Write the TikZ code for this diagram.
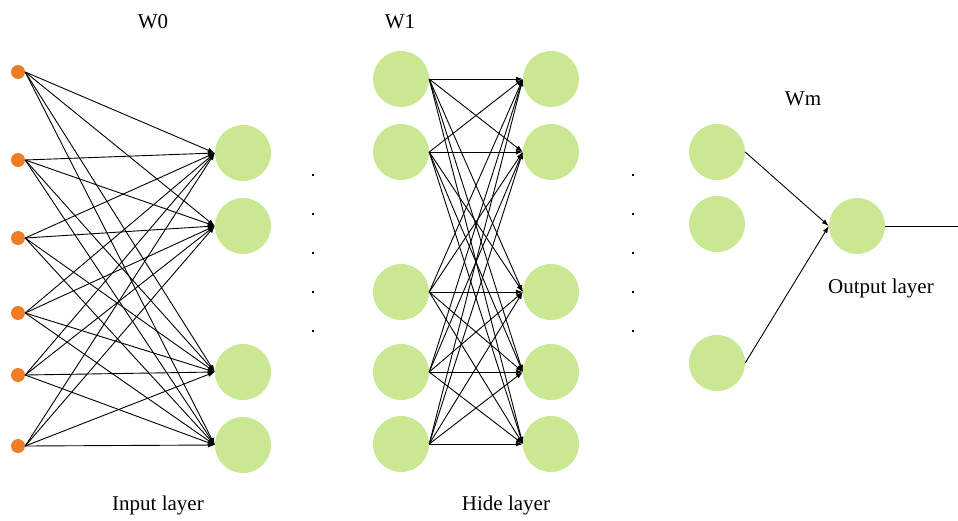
\documentclass[tikz,border=0pt]{standalone}
\usepackage{fontspec}
\setmainfont{Liberation Serif}
\usetikzlibrary{arrows.meta}
\definecolor{nodegreen}{HTML}{CAE892}
\definecolor{inorange}{HTML}{EE7D24}
\tikzset{
  neuron/.style={circle,fill=nodegreen,minimum size=56pt,inner sep=0pt},
  inp/.style={circle,fill=inorange,minimum size=14pt,inner sep=0pt},
  tinydot/.style={fill=black,minimum size=2.4pt,inner sep=0pt},
  conn/.style={draw=black,line width=0.9pt,-{Latex[length=7pt,width=5pt]}},
  plain/.style={draw=black,line width=0.9pt},
  lbl/.style={font=\fontsize{21}{24}\selectfont,inner sep=0pt}
}
\begin{document}
\begin{tikzpicture}[x=1pt,y=-1pt]
\useasboundingbox (0,0) rectangle (958,520);
% input dots
\foreach \i/\y in {1/72,2/160,3/238,4/313,5/375,6/446}
  \node[inp] (i\i) at (18,\y) {};
% layer 1
\foreach \i/\y in {1/153,2/226,3/372,4/445}
  \node[neuron] (a\i) at (243,\y) {};
% layer 2
\foreach \i/\y in {1/79,2/152,3/292,4/372,5/444}
  \node[neuron] (b\i) at (401,\y) {};
% layer 3
\foreach \i/\y in {1/79,2/152,3/292,4/372,5/444}
  \node[neuron] (c\i) at (551,\y) {};
% layer 4
\foreach \i/\y in {1/152,2/224,3/363}
  \node[neuron] (d\i) at (717,\y) {};
% output
\node[neuron] (o) at (857,226) {};
\coordinate (oend) at (958,226);
% ellipsis dots
\foreach \i/\y in {1/175,2/214,3/253,4/292,5/331}{
  \node[tinydot] (p\i) at (313,\y) {};
  \node[tinydot] (q\i) at (633,\y) {};
}
% connections
\foreach \i in {1,...,6}
  \foreach \j in {1,...,4}
    \draw[conn] (i\i.east) -- (a\j.west);
\foreach \i in {1,...,5}
  \foreach \j in {1,...,5}
    \draw[conn] (b\i.east) -- (c\j.west);
\draw[conn] (d1.east) -- (o.west);
\draw[conn] (d3.east) -- (o.west);
\draw[plain] (o.east) -- (oend);
% labels
\node[lbl] (w0) at (153,22) {W0};
\node[lbl] (w1) at (400,22) {W1};
\node[lbl] (wm) at (803,99) {Wm};
\node[lbl] (outl) at (881,288) {Output layer};
\node[lbl] (inl) at (158,505) {Input layer};
\node[lbl] (hidel) at (506,505) {Hide layer};
\end{tikzpicture}
\end{document}
